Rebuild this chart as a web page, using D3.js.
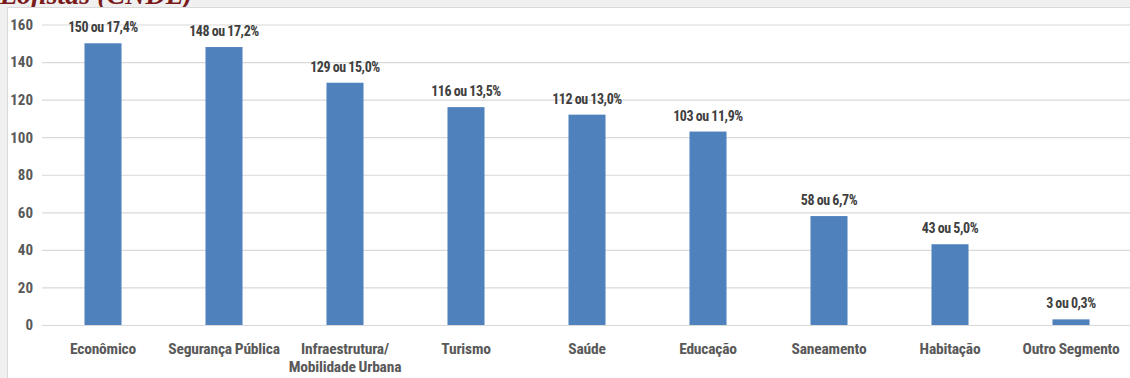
<!DOCTYPE html>
<html>
<head>
<meta charset="utf-8">
<script src="https://cdn.jsdelivr.net/npm/d3@7"></script>
<style>
  html, body { margin: 0; padding: 0; background: #f0f0f0; }
  svg { display: block; }
</style>
</head>
<body>
<svg id="chart" width="1130" height="378"></svg>
<script>
const categories = ["Econômico", "Segurança Pública", "Infraestrutura/\nMobilidade Urbana", "Turismo", "Saúde", "Educação", "Saneamento", "Habitação", "Outro Segmento"];
const counts = [150, 148, 129, 116, 112, 103, 58, 43, 3];
const shares = ["17,4%", "17,2%", "15,0%", "13,5%", "13,0%", "11,9%", "6,7%", "5,0%", "0,3%"];
const yTicks = [0, 20, 40, 60, 80, 100, 120, 140, 160];

const svg = d3.select("#chart");
const W = 1130, H = 378;
const font = "'Liberation Sans Narrow', 'Roboto Condensed', 'DejaVu Sans Condensed', sans-serif";

svg.append("rect").attr("x", 0).attr("y", 0).attr("width", W).attr("height", H).attr("fill", "#f0f0f0");

// heading above the panel (its lower part only peeks out)
svg.append("text").attr("x", 0).attr("y", 4)
  .attr("font-family", "'Liberation Serif', serif").attr("font-style", "italic").attr("font-weight", "bold")
  .attr("font-size", 28).attr("fill", "#7a1a1a").text("Lojistas (CNDL)");

// white panel
svg.append("rect").attr("x", 7.5).attr("y", 7.5).attr("width", W).attr("height", H)
  .attr("fill", "#ffffff").attr("stroke", "#d9d9d9").attr("stroke-width", 1);

const x = d3.scaleBand().domain(categories).range([42.5, 1131.5]).paddingInner(0.694).paddingOuter(0.347);
const y = d3.scaleLinear().domain([0, 160]).range([325, 24.5]);

// gridlines
const grid = svg.append("g").attr("transform", "translate(42,0)")
  .call(d3.axisLeft(y).tickValues(yTicks).tickSize(-(W - 42)).tickFormat(""));
grid.select(".domain").remove();
grid.selectAll("line").attr("stroke", "#d9d9d9").attr("stroke-width", 1.2);

// y tick labels
const yAxis = svg.append("g").attr("transform", "translate(33,0)")
  .call(d3.axisLeft(y).tickValues(yTicks).tickSize(0).tickPadding(0));
yAxis.select(".domain").remove();
yAxis.selectAll("text").attr("font-family", font).attr("font-weight", "bold")
  .attr("font-size", 15).attr("fill", "#595959");

// bars
svg.append("g").selectAll("rect").data(categories).join("rect")
  .attr("x", d => x(d))
  .attr("width", x.bandwidth())
  .attr("y", (d, i) => y(counts[i]))
  .attr("height", (d, i) => y(0) - y(counts[i]))
  .attr("fill", "#4f81bd");

// value labels
svg.append("g").selectAll("text").data(categories).join("text")
  .attr("x", d => x(d) + x.bandwidth() / 2)
  .attr("y", (d, i) => y(counts[i]) - 11)
  .attr("text-anchor", "middle")
  .attr("font-family", font).attr("font-weight", "bold").attr("font-size", 14)
  .attr("letter-spacing", -0.4).attr("word-spacing", -0.3)
  .attr("fill", "#404040")
  .text((d, i) => `${counts[i]} ou ${shares[i]}`);

// category labels
const xl = svg.append("g").selectAll("text").data(categories).join("text")
  .attr("x", d => x(d) + x.bandwidth() / 2)
  .attr("y", 354)
  .attr("text-anchor", "middle")
  .attr("font-family", font).attr("font-weight", "bold").attr("font-size", 15.5)
  .attr("letter-spacing", -0.2).attr("word-spacing", -0.5)
  .attr("fill", "#595959");
xl.each(function(d) {
  const lines = d.split("\n");
  d3.select(this).selectAll("tspan").data(lines).join("tspan")
    .attr("x", x(d) + x.bandwidth() / 2)
    .attr("dy", (l, i) => i === 0 ? 0 : 18)
    .text(l => l);
});
</script>
</body>
</html>
